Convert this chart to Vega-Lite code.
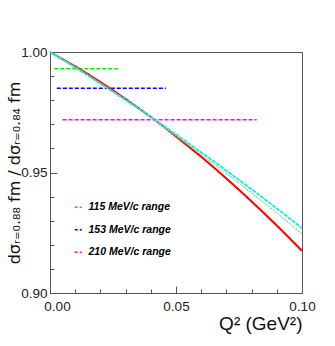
{
  "$schema": "https://vega.github.io/schema/vega-lite/v6.json",
  "width": 252,
  "height": 241,
  "autosize": "none",
  "padding": {"left": 50, "top": 52, "right": 33, "bottom": 53},
  "background": "white",
  "config": {
    "view": {"stroke": "#555", "strokeWidth": 1},
    "font": "Liberation Sans",
    "axis": {"labelOverlap": false, "labelFlush": false, "grid": false, "domainColor": "#555", "tickColor": "#555"}
  },
  "resolve": {"axis": {"x": "independent", "y": "independent"}},
  "datasets": {
    "ranges": [
      {"range": "115 MeV/c range", "x0": 0.0017, "x1": 0.0269, "y": 0.9930},
      {"range": "153 MeV/c range", "x0": 0.0027, "x1": 0.046, "y": 0.9850},
      {"range": "210 MeV/c range", "x0": 0.005, "x1": 0.082, "y": 0.9719}
    ],
    "red": [
      {"q2": 0.00, "ratio": 1.0000},
      {"q2": 0.01, "ratio": 0.9940},
      {"q2": 0.02, "ratio": 0.9875},
      {"q2": 0.03, "ratio": 0.9805},
      {"q2": 0.04, "ratio": 0.9730},
      {"q2": 0.05, "ratio": 0.9650},
      {"q2": 0.06, "ratio": 0.9565},
      {"q2": 0.07, "ratio": 0.9475},
      {"q2": 0.08, "ratio": 0.9380},
      {"q2": 0.09, "ratio": 0.9280},
      {"q2": 0.10, "ratio": 0.9175}
    ],
    "green": [
      {"q2": 0.00, "ratio": 1.0000},
      {"q2": 0.01, "ratio": 0.9936},
      {"q2": 0.02, "ratio": 0.9868},
      {"q2": 0.03, "ratio": 0.9799},
      {"q2": 0.04, "ratio": 0.9727},
      {"q2": 0.05, "ratio": 0.9652},
      {"q2": 0.06, "ratio": 0.9575},
      {"q2": 0.07, "ratio": 0.9496},
      {"q2": 0.08, "ratio": 0.9415},
      {"q2": 0.09, "ratio": 0.9332},
      {"q2": 0.10, "ratio": 0.9245}
    ],
    "cyan": [
      {"q2": 0.00, "ratio": 1.0000},
      {"q2": 0.01, "ratio": 0.9936},
      {"q2": 0.02, "ratio": 0.9869},
      {"q2": 0.03, "ratio": 0.9801},
      {"q2": 0.04, "ratio": 0.9731},
      {"q2": 0.05, "ratio": 0.9658},
      {"q2": 0.06, "ratio": 0.9584},
      {"q2": 0.07, "ratio": 0.9508},
      {"q2": 0.08, "ratio": 0.9430},
      {"q2": 0.09, "ratio": 0.9351},
      {"q2": 0.10, "ratio": 0.9269}
    ]
  },
  "layer": [
    {
      "data": {"name": "ranges"},
      "mark": {"type": "rule", "strokeDash": [4, 2], "strokeWidth": 1.5},
      "encoding": {
        "x": {
          "field": "x0", "type": "quantitative",
          "scale": {"domain": [0, 0.1], "nice": false, "zero": false},
          "axis": {
            "orient": "bottom",
            "title": "Q² (GeV²)",
            "values": [0, 0.05, 0.1],
            "format": ".2f",
            "tickSize": -7,
            "labelOffset": {"condition": {"test": "datum.value == 0", "value": 7}, "value": 0},
            "labelPadding": 13,
            "labelFontSize": 13.5,
            "labelColor": "#222",
            "titleFontSize": 19,
            "titleFontWeight": "normal",
            "titleColor": "#111",
            "titleAnchor": "end",
            "titlePadding": 2
          }
        },
        "x2": {"field": "x1"},
        "y": {
          "field": "y", "type": "quantitative",
          "scale": {"domain": [0.9, 1.0], "nice": false, "zero": false},
          "axis": {
            "orient": "left",
            "title": "dσᵣ₌₀.₈₈ fm / dσᵣ₌₀.₈₄ fm",
            "values": [0.9, 0.95, 1.0],
            "format": ".2f",
            "tickSize": -7,
            "labelPadding": 10,
            "labelFontSize": 13.5,
            "labelColor": "#222",
            "titleFont": "DejaVu Sans",
            "titleFontSize": 16,
            "titleFontWeight": "normal",
            "titleColor": "#111",
            "titlePadding": -2
          }
        },
        "color": {
          "field": "range", "type": "nominal",
          "scale": {
            "domain": ["115 MeV/c range", "153 MeV/c range", "210 MeV/c range"],
            "range": ["#00ee00", "#0000ff", "#ff00ff"]
          },
          "legend": {
            "orient": "none",
            "legendX": 23,
            "legendY": 150,
            "title": null,
            "symbolType": "stroke",
            "symbolSize": 49,
            "symbolStrokeWidth": 1.5,
            "symbolDash": [3, 2],
            "labelFont": "Liberation Sans",
            "labelFontSize": 10.5,
            "labelFontWeight": "bold",
            "labelFontStyle": "italic",
            "labelColor": "#000",
            "rowPadding": 11.5,
            "labelOffset": 5,
            "padding": 0
          }
        }
      }
    },
    {
      "data": {"name": "red"},
      "mark": {"type": "line", "color": "#ff0000", "strokeWidth": 2, "interpolate": "monotone"},
      "encoding": {
        "x": {
          "field": "q2", "type": "quantitative",
          "axis": {
            "orient": "bottom",
            "title": null,
            "labels": false,
            "domain": false,
            "values": [0.01, 0.02, 0.03, 0.04, 0.06, 0.07, 0.08, 0.09],
            "tickSize": -4
          }
        },
        "y": {
          "field": "ratio", "type": "quantitative",
          "axis": {
            "orient": "left",
            "title": null,
            "labels": false,
            "domain": false,
            "values": [0.91, 0.92, 0.93, 0.94, 0.96, 0.97, 0.98, 0.99],
            "tickSize": -4
          }
        }
      }
    },
    {
      "data": {"name": "green"},
      "mark": {"type": "line", "color": "#7fe07f", "strokeWidth": 1.2, "strokeDash": [2, 1], "interpolate": "monotone"},
      "encoding": {
        "x": {"field": "q2", "type": "quantitative", "axis": null},
        "y": {"field": "ratio", "type": "quantitative", "axis": null}
      }
    },
    {
      "data": {"name": "cyan"},
      "mark": {"type": "line", "color": "#22eaea", "strokeWidth": 2, "strokeDash": [4, 1], "interpolate": "monotone"},
      "encoding": {
        "x": {"field": "q2", "type": "quantitative", "axis": null},
        "y": {"field": "ratio", "type": "quantitative", "axis": null}
      }
    }
  ]
}
